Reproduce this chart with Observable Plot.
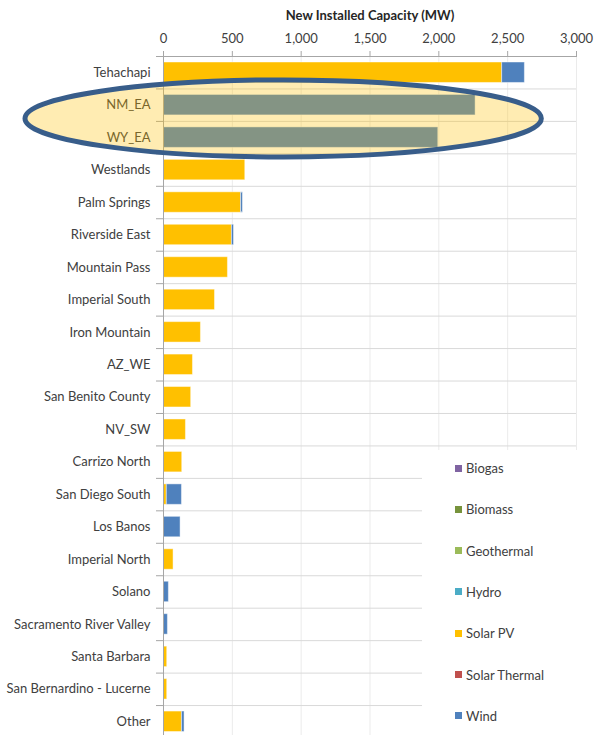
<!DOCTYPE html>
<html>
<head>
<meta charset="utf-8">
<script src="https://cdn.jsdelivr.net/npm/d3@7"></script>
<script src="https://cdn.jsdelivr.net/npm/@observablehq/plot@0.6"></script>
<style>
  html, body { margin: 0; padding: 0; background: #fff; overflow: hidden; }
  #wrap { position: relative; width: 600px; height: 735px; font-family: Lato, "Liberation Sans", sans-serif; }
  #legend { position: absolute; left: 422px; top: 450px; width: 170px; height: 285px; background: #fff; }
  .li { position: absolute; left: 33px; font-size: 13px; color: #404040; display: flex; align-items: center; height: 16px; }
  .sw { width: 7px; height: 7px; margin-right: 4px; display: inline-block; }
</style>
</head>
<body>
<div id="wrap"></div>
<script>
const regions = ["Tehachapi", "NM_EA", "WY_EA", "Westlands", "Palm Springs", "Riverside East",
  "Mountain Pass", "Imperial South", "Iron Mountain", "AZ_WE", "San Benito County", "NV_SW",
  "Carrizo North", "San Diego South", "Los Banos", "Imperial North", "Solano",
  "Sacramento River Valley", "Santa Barbara", "San Bernardino - Lucerne", "Other"];
const solarPV = [2460, 0, 0, 594, 563, 497, 468, 374, 272, 214, 201, 163, 136, 24, 0, 73, 0, 0, 27, 27, 134];
const wind =    [165, 2267, 1996, 0, 14, 15, 0, 0, 0, 0, 0, 0, 0, 110, 124, 0, 39, 32, 0, 0, 19];
const types = ["Biogas", "Biomass", "Geothermal", "Hydro", "Solar PV", "Solar Thermal", "Wind"];
const typeColors = ["#8064A2", "#77933C", "#9BBB59", "#4BACC6", "#FFC000", "#C0504D", "#4F81BD"];
const xTicks = [0, 500, 1000, 1500, 2000, 2500, 3000];
const axisTitle = "New Installed Capacity (MW)";

const rows = [];
regions.forEach((r, i) => {
  rows.push({region: r, type: "Solar PV", value: solarPV[i]});
  rows.push({region: r, type: "Wind", value: wind[i]});
});

const H = 735, MT = 56, PLOT_BOTTOM = 737.5, PAD = 0.37;
const step = (PLOT_BOTTOM - MT) / regions.length;
const ext = step * PAD / 2;

const chart = Plot.plot({
  width: 600, height: H,
  marginTop: MT, marginBottom: 0, marginLeft: 163, marginRight: 24,
  style: {fontFamily: "Lato, 'Liberation Sans', sans-serif", fontSize: "13px", color: "#404040", background: "#fff"},
  x: {domain: [0, 3000]},
  y: {domain: regions, padding: PAD, round: false, range: [MT - ext, PLOT_BOTTOM + ext], label: null},
  color: {domain: types, range: typeColors},
  marks: [
    Plot.gridX(xTicks, {stroke: "#ebebeb", strokeOpacity: 1}),
    Plot.ruleY(regions.slice(1), {y: d => d, x1: 0, x2: 3000, dy: -step / 2, stroke: "#d9d9d9"}),
    Plot.ruleY(regions, {y: d => d, x1: 0, x2: 0, insetLeft: -7, dy: -step / 2, stroke: "#a6a6a6"}),
    Plot.barX(rows, Plot.stackX({x: "value", y: "region", fill: "type", order: types,
      stroke: "#fff", strokeOpacity: 0.45, strokeWidth: 1})),
    Plot.ruleX([0], {stroke: "#a6a6a6"}),
    Plot.frame({anchor: "top", stroke: "#a6a6a6"}),
    Plot.axisX({anchor: "top", ticks: xTicks, tickFormat: d3.format(","), tickSize: 6, tickPadding: 8,
      stroke: "#a6a6a6", label: null, fontSize: 13}),
    Plot.text([axisTitle], {frameAnchor: "top", dy: -46, fontWeight: "bold", fontSize: 13, fill: "#262626"}),
    Plot.axisY({tickSize: 0, tickPadding: 13, label: null, fontSize: 13, fill: "#404040"})
  ]
});

const wrap = document.getElementById("wrap");
wrap.appendChild(chart);

// Annotation ellipse around NM_EA and WY_EA
const xs = chart.scale("x"), ys = chart.scale("y");
const bw = ys.bandwidth;
const cy = (ys.apply("NM_EA") + ys.apply("WY_EA") + bw) / 2 - 2.5;
const left = 25, right = xs.apply(2748);
const svg = d3.select(chart.tagName.toLowerCase() === "svg" ? chart : chart.querySelector("svg"));
svg.append("ellipse")
  .attr("cx", (left + right) / 2).attr("cy", cy)
  .attr("rx", (right - left) / 2).attr("ry", 38.5)
  .attr("fill", "#FFC000").attr("fill-opacity", 0.3)
  .attr("stroke", "#385D8A").attr("stroke-width", 5);

// Legend
const legend = document.createElement("div");
legend.id = "legend";
types.forEach((t, i) => {
  const d = document.createElement("div");
  d.className = "li";
  d.style.top = (10 + i * 41.3) + "px";
  d.innerHTML = `<span class="sw" style="background:${typeColors[i]}"></span>${t}`;
  legend.appendChild(d);
});
wrap.appendChild(legend);
</script>
</body>
</html>
